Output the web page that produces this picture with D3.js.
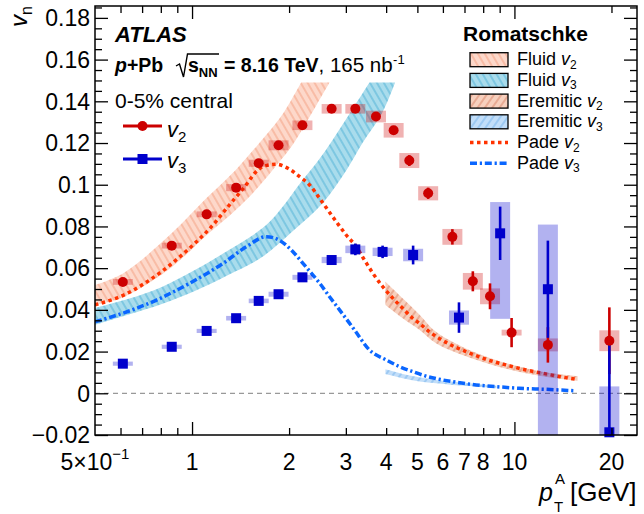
<!DOCTYPE html>
<html><head><meta charset="utf-8">
<script src="https://cdn.jsdelivr.net/npm/d3@7"></script>
<style>
body{margin:0;background:#fff;}
svg{display:block;}
text{font-family:"Liberation Sans",Arial,Helvetica,sans-serif;fill:#000;white-space:pre;}
</style>
</head><body><div id="chart"></div>
<script>
// ---------------- DATA ----------------
// ATLAS v2 (red circles)
const pt2 = [0.61,0.865,1.11,1.37,1.61,1.855,2.2,2.71,3.21,3.72,4.22,4.72,5.4,6.42,7.43,8.4,9.8,12.7,19.7];
const v2 = [0.0534,0.0708,0.0858,0.0986,0.1103,0.1189,0.1285,0.1364,0.1364,0.1327,0.1261,0.1116,0.0959,0.075,0.0537,0.0465,0.0291,0.0232,0.0252];
const v2Stat = [0.0008,0.0008,0.0008,0.0008,0.0008,0.0008,0.0008,0.0008,0.0009,0.001,0.0015,0.0026,0.0027,0.0037,0.0048,0.0062,0.007,0.0085,0.016];
const v2Sys = [0.0014,0.0014,0.0014,0.0017,0.0017,0.0024,0.0023,0.0023,0.0023,0.0028,0.0035,0.0036,0.0034,0.0038,0.004,0.0038,0.0014,0.0031,0.005];
// ATLAS v3 (blue squares)
const pt3 = [0.61,0.865,1.11,1.37,1.61,1.855,2.2,2.71,3.21,3.9,4.85,6.73,9.03,12.7,19.7];
const v3 = [0.0142,0.0223,0.0299,0.036,0.0443,0.0475,0.0556,0.0639,0.069,0.0678,0.0663,0.0363,0.0767,0.0499,-0.0187];
const v3Stat = [0.0006,0.0006,0.0006,0.0006,0.0006,0.0006,0.0007,0.001,0.0028,0.003,0.0045,0.0073,0.0128,0.0233,0.0435];
const v3SysLo = [0.001,0.001,0.001,0.0011,0.0011,0.0012,0.0012,0.0015,0.0018,0.002,0.003,0.0034,0.041,0.075,0.06];
const v3SysHi = [0.001,0.001,0.001,0.0011,0.0011,0.0012,0.0012,0.0015,0.0018,0.002,0.003,0.0034,0.015,0.031,0.022];
// Romatschke Fluid bands: [pT, v] edges
const fluidV2Upper = [[0.5,0.0519],[0.614,0.0577],[0.866,0.0768],[1.111,0.0937],[1.366,0.1071],[1.598,0.1191],[1.855,0.1311],[2.007,0.1392],[2.18,0.149]];
const fluidV2Lower = [[0.5,0.0424],[0.614,0.0462],[0.866,0.0606],[1.111,0.0759],[1.366,0.0879],[1.598,0.0985],[1.855,0.1105],[2.05,0.1191],[2.24,0.1287],[2.67,0.149]];
const fluidV3Upper = [[0.5,0.0409],[0.632,0.0452],[0.806,0.051],[1.02,0.0591],[1.29,0.0683],[1.564,0.0764],[1.741,0.0822],[1.91,0.0894],[2.156,0.1004],[2.434,0.1105],[2.729,0.1215],[3.08,0.134],[3.55,0.149]];
const fluidV3Lower = [[0.5,0.0328],[0.632,0.0376],[0.806,0.0428],[1.02,0.049],[1.29,0.0566],[1.645,0.0652],[2.051,0.0777],[2.54,0.0911],[3.015,0.1071],[3.378,0.12],[3.896,0.1346],[4.265,0.149]];
// Eremitic bands
const eremV2Pt = [3.98,4.5,5.07,5.71,7.24,9.64,12.2,15.7];
const eremV2Hi = [0.0535,0.0456,0.0378,0.0295,0.0208,0.014,0.0103,0.0082];
const eremV2Lo = [0.0423,0.036,0.0305,0.024,0.0172,0.0114,0.0082,0.006];
const eremV3Pt = [3.98,4.5,5.07,5.71,6.43,7.24,8.8];
const eremV3Hi = [0.0115,0.0093,0.0077,0.0064,0.0056,0.0048,0.0036];
const eremV3Lo = [0.0092,0.0072,0.0056,0.0048,0.004,0.0035,0.0024];
// Pade curves
const padeV2Pt = [0.5,0.614,0.714,0.804,0.905,1.02,1.149,1.293,1.457,1.601,1.66,1.826,1.983,2.156,2.315,2.487,2.638,2.801,3.008,3.23,3.427,3.636,3.905,4.193,4.5,4.835,5.07,5.45,6.2,7.07,8.16,9.41,10.85,12.51,14.43,15.68];
const padeV2 = [0.0424,0.0471,0.0528,0.0583,0.0647,0.0719,0.0799,0.0895,0.0991,0.1071,0.1087,0.1098,0.1079,0.1039,0.0999,0.0935,0.0879,0.0823,0.0759,0.0703,0.0639,0.0576,0.0511,0.0456,0.0408,0.036,0.0336,0.0295,0.024,0.020,0.0163,0.0136,0.0112,0.0093,0.0075,0.0067];
const padeV3Pt = [0.5,0.61,0.776,0.984,1.248,1.474,1.70,1.87,2.056,2.208,2.344,2.487,2.67,2.867,3.19,3.55,4.0,4.4,4.835,5.38,5.99,6.75,7.6,8.77,10.34,12.51,15.5];
const padeV3 = [0.0343,0.0384,0.0447,0.0528,0.0623,0.0703,0.0751,0.0733,0.0679,0.0623,0.0576,0.0528,0.0463,0.040,0.0304,0.0208,0.016,0.0128,0.0104,0.008,0.0064,0.0051,0.004,0.0032,0.0024,0.0019,0.0012];
// Axis ticks
const xMajorTicks = [1,10];
const xMinorTicks = [0.6,0.7,0.8,0.9,2,3,4,5,6,7,8,9,20];
const xLabelTicks = [1,2,3,4,5,6,7,8,10,20];
const yMajorTicks = [-0.02,0,0.02,0.04,0.06,0.08,0.1,0.12,0.14,0.16,0.18];
const yLabels = ["\u22120.02","0","0.02","0.04","0.06","0.08","0.1","0.12","0.14","0.16","0.18"];

// ---------------- SETUP ----------------
const W = 644, H = 514;
const L = 95, R = 637, T = 6, B = 435;
const svg = d3.select('#chart').append('svg').attr('width', W).attr('height', H);
const x = d3.scaleLog().domain([0.5, 24]).range([L, R]);
const y = d3.scaleLinear().domain([-0.02, 0.1857]).range([B, T]);
const defs = svg.append('defs');
defs.append('clipPath').attr('id', 'clip').append('rect').attr('x', L).attr('y', T).attr('width', R - L).attr('height', B - T);

function hatch(id, bg, line, angle, sp, lw) {
  const p = defs.append('pattern').attr('id', id).attr('patternUnits', 'userSpaceOnUse')
    .attr('width', sp).attr('height', sp).attr('patternTransform', `rotate(${angle})`);
  p.append('rect').attr('width', sp).attr('height', sp).attr('fill', bg);
  p.append('line').attr('x1', sp / 2).attr('y1', -1).attr('x2', sp / 2).attr('y2', sp + 1)
    .attr('stroke', line).attr('stroke-width', lw);
}
hatch('hFluidV2', '#fdd8ca', '#f3a183', -30, 6, 1);
hatch('hFluidV3', '#a9dcec', '#52b2d6', -30, 6, 1);
hatch('hEremV2', '#f7d0be', '#d9866a', 35, 6, 1);
hatch('hEremV3', '#c2def9', '#78b4ec', 35, 6, 1);

const plot = svg.append('g').attr('clip-path', 'url(#clip)');
const edge = d3.line().x(d => x(d[0])).y(d => y(d[1])).curve(d3.curveCatmullRom);
function bandPath(upper, lower) {
  return edge(upper) + edge(lower.slice().reverse()).replace('M', 'L') + 'Z';
}
const zip = (a, b) => a.map((v, i) => [v, b[i]]);

// bands
plot.append('path').attr('d', bandPath(fluidV2Upper, fluidV2Lower)).attr('fill', 'url(#hFluidV2)');
plot.append('path').attr('d', bandPath(fluidV3Upper, fluidV3Lower)).attr('fill', 'url(#hFluidV3)');
plot.append('path').attr('d', bandPath(zip(eremV2Pt, eremV2Hi), zip(eremV2Pt, eremV2Lo))).attr('fill', 'url(#hEremV2)');
plot.append('path').attr('d', bandPath(zip(eremV3Pt, eremV3Hi), zip(eremV3Pt, eremV3Lo))).attr('fill', 'url(#hEremV3)');

// zero line
plot.append('line').attr('x1', L).attr('x2', R).attr('y1', y(0)).attr('y2', y(0))
  .attr('stroke', '#999').attr('stroke-width', 1.3).attr('stroke-dasharray', '5,4');

// pade curves
const curve = d3.line().x(d => x(d[0])).y(d => y(d[1])).curve(d3.curveMonotoneX);
plot.append('path').attr('d', curve(zip(padeV2Pt, padeV2))).attr('fill', 'none')
  .attr('stroke', '#ff3300').attr('stroke-width', 3.5).attr('stroke-dasharray', '3.5,3.5');
plot.append('path').attr('d', curve(zip(padeV3Pt, padeV3))).attr('fill', 'none')
  .attr('stroke', '#0a66ff').attr('stroke-width', 3.5).attr('stroke-dasharray', '7,2.8,2.2,2.8');

// data
const BW = 1.074; // systematic box half-width factor (log space)
const RED = '#cc0000', BLUE = '#0000cc';
const d2 = pt2.map((p, i) => ({p, v: v2[i], s: v2Stat[i], lo: v2Sys[i], hi: v2Sys[i]}));
const d3d = pt3.map((p, i) => ({p, v: v3[i], s: v3Stat[i], lo: v3SysLo[i], hi: v3SysHi[i]}));

function boxes(data, col) {
  plot.append('g').selectAll('rect').data(data).join('rect')
    .attr('x', d => x(d.p / BW)).attr('width', d => x(d.p * BW) - x(d.p / BW))
    .attr('y', d => y(d.v + d.hi)).attr('height', d => y(d.v - d.lo) - y(d.v + d.hi))
    .attr('fill', col);
}
function bars(data, col) {
  plot.append('g').selectAll('line').data(data).join('line')
    .attr('x1', d => x(d.p)).attr('x2', d => x(d.p))
    .attr('y1', d => y(d.v + d.s)).attr('y2', d => y(d.v - d.s))
    .attr('stroke', col).attr('stroke-width', 2.6);
}
boxes(d2, 'rgba(204,0,0,0.3)');
boxes(d3d, 'rgba(0,0,204,0.3)');
bars(d2, RED);
bars(d3d, BLUE);
svg.append('g').selectAll('circle').data(d2).join('circle')
  .attr('cx', d => x(d.p)).attr('cy', d => y(d.v)).attr('r', 5).attr('fill', RED);
svg.append('g').selectAll('rect').data(d3d).join('rect')
  .attr('x', d => x(d.p) - 5).attr('y', d => y(d.v) - 5).attr('width', 10).attr('height', 10).attr('fill', BLUE);

// ---------------- AXES ----------------
function ax(gen, tr, vals, size) {
  const g = svg.append('g').attr('transform', tr)
    .call(gen.tickValues(vals).tickSizeInner(-size).tickSizeOuter(0).tickFormat(''));
  g.select('.domain').remove();
  g.selectAll('line').attr('stroke', '#000').attr('stroke-width', 1.3);
}
const yMinor = d3.range(-0.02, 0.1851, 0.005).map(v => +v.toFixed(3)).filter(v => !yMajorTicks.some(m => Math.abs(m - v) < 1e-6));
ax(d3.axisBottom(x), `translate(0,${B})`, xMajorTicks, 13);
ax(d3.axisBottom(x), `translate(0,${B})`, xMinorTicks, 7);
ax(d3.axisTop(x), `translate(0,${T})`, xMajorTicks, 13);
ax(d3.axisTop(x), `translate(0,${T})`, xMinorTicks, 7);
ax(d3.axisLeft(y), `translate(${L},0)`, yMajorTicks, 13);
ax(d3.axisLeft(y), `translate(${L},0)`, yMinor, 7);
ax(d3.axisRight(y), `translate(${R},0)`, yMajorTicks, 13);
ax(d3.axisRight(y), `translate(${R},0)`, yMinor, 7);
svg.append('rect').attr('x', L).attr('y', T).attr('width', R - L).attr('height', B - T)
  .attr('fill', 'none').attr('stroke', '#000').attr('stroke-width', 1.5);

// tick labels
svg.append('g').selectAll('text').data(yMajorTicks).join('text')
  .attr('x', 90).attr('y', d => y(d)).attr('dy', '0.36em').attr('text-anchor', 'end')
  .style('font-size', '23px').text((d, i) => yLabels[i]);
svg.append('g').selectAll('text').data(xLabelTicks).join('text')
  .attr('x', d => x(d)).attr('y', 470).attr('text-anchor', 'middle')
  .style('font-size', '23px').text(d => d);
const t05 = svg.append('text').attr('x', x(0.5)).attr('y', 470).attr('text-anchor', 'middle').style('font-size', '23px');
t05.append('tspan').text('5\u00d710');
t05.append('tspan').attr('dy', -11).style('font-size', '15px').text('\u22121');

// axis titles
const xt = svg.append('g');
xt.append('text').attr('x', 539).attr('y', 501).style('font-size', '25px').style('font-style', 'italic').text('p');
xt.append('text').attr('x', 554).attr('y', 512).style('font-size', '15px').text('T');
xt.append('text').attr('x', 555).attr('y', 484).style('font-size', '15px').text('A');
xt.append('text').attr('x', 570).attr('y', 501).style('font-size', '26px').text('[GeV]');
const yt = svg.append('text').attr('transform', 'translate(27,27) rotate(-90)').style('font-size', '24px');
yt.append('tspan').style('font-style', 'italic').text('v');
yt.append('tspan').attr('dy', 5).style('font-size', '16px').text('n');

// ---------------- ANNOTATIONS ----------------
function rich(x0, y0, parts) {
  let cx = x0;
  parts.forEach(p => {
    const t = svg.append('text').attr('x', cx).attr('y', y0 + (p.dy || 0))
      .style('font-size', p.size + 'px').style('font-weight', p.bold ? 'bold' : 'normal')
      .style('font-style', p.italic ? 'italic' : 'normal').text(p.t);
    cx += t.node().getComputedTextLength() + (p.gap || 0);
  });
  return cx;
}
svg.append('text').attr('x', 115).attr('y', 42).style('font-size', '22px')
  .style('font-weight', 'bold').style('font-style', 'italic').text('ATLAS');
rich(115, 72, [{t: 'p', size: 19.5, bold: true, italic: true}, {t: '+Pb', size: 19.5, bold: true}]);
svg.append('path').attr('d', 'M176,66 L179.5,64 L183.5,77 L187.5,54 L219,54')
  .attr('fill', 'none').attr('stroke', '#000').attr('stroke-width', 1.4);
rich(188, 72, [{t: 's', size: 19.5, bold: true}, {t: 'NN', size: 13, bold: true, dy: 5}]);
const cx1 = rich(224, 72, [{t: '= 8.16 TeV', size: 19.5, bold: true}, {t: ', 165 nb', size: 20.5}]);
svg.append('text').attr('x', cx1 + 0.5).attr('y', 64).style('font-size', '13px').text('-1');

svg.append('text').attr('x', 115).attr('y', 108).style('font-size', '21px').text('0-5% central');
// left legend
svg.append('line').attr('x1', 123).attr('x2', 162).attr('y1', 126).attr('y2', 126).attr('stroke', RED).attr('stroke-width', 3);
svg.append('circle').attr('cx', 142.5).attr('cy', 126).attr('r', 5).attr('fill', RED);
svg.append('line').attr('x1', 123).attr('x2', 162).attr('y1', 159).attr('y2', 159).attr('stroke', BLUE).attr('stroke-width', 3);
svg.append('rect').attr('x', 137.5).attr('y', 154).attr('width', 10).attr('height', 10).attr('fill', BLUE);
rich(167, 137, [{t: 'v', size: 22, italic: true}, {t: '2', size: 15, dy: 5}]);
rich(167, 168, [{t: 'v', size: 22, italic: true}, {t: '3', size: 15, dy: 5}]);

// right legend
svg.append('text').attr('x', 463).attr('y', 41).style('font-size', '21px').style('font-weight', 'bold').text('Romatschke');
const legRows = [
  {name: 'Fluid', n: '2', fill: 'url(#hFluidV2)'},
  {name: 'Fluid', n: '3', fill: 'url(#hFluidV3)'},
  {name: 'Eremitic', n: '2', fill: 'url(#hEremV2)'},
  {name: 'Eremitic', n: '3', fill: 'url(#hEremV3)'},
  {name: 'Pade', n: '2', line: '#ff3300', dash: '3.5,3.5'},
  {name: 'Pade', n: '3', line: '#0a66ff', dash: '7,2.8,2.2,2.8'}
];
legRows.forEach((r, i) => {
  const cy = 59.7 + i * 20.7;
  if (r.fill) {
    svg.append('rect').attr('x', 470).attr('y', cy - 7).attr('width', 38).attr('height', 14)
      .attr('fill', r.fill).attr('stroke', '#000').attr('stroke-width', 1.3);
  } else {
    svg.append('line').attr('x1', 470).attr('x2', 508).attr('y1', cy).attr('y2', cy)
      .attr('stroke', r.line).attr('stroke-width', 3.5).attr('stroke-dasharray', r.dash);
  }
  rich(517, cy + 5.5, [{t: r.name, size: 18, gap: 5}, {t: 'v', size: 18, italic: true}, {t: r.n, size: 12, dy: 3.5}]);
});
</script>
</body></html>
